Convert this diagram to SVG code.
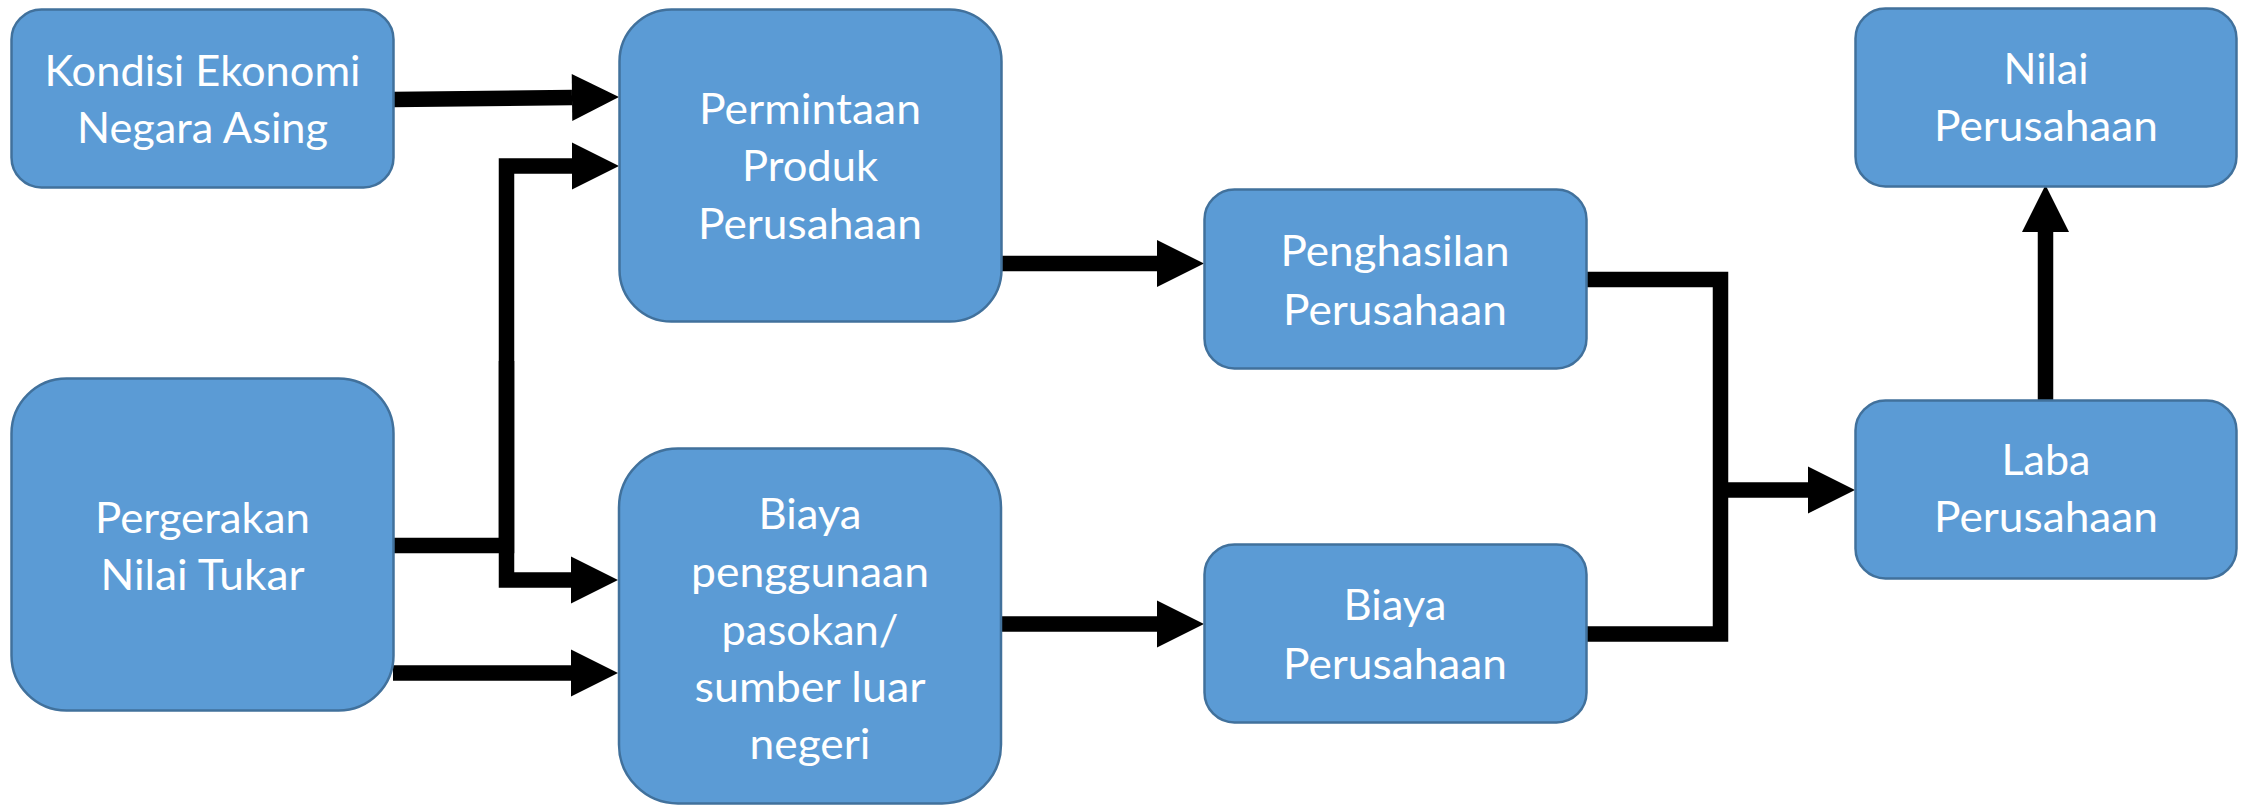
<svg xmlns="http://www.w3.org/2000/svg" width="2244" height="807" viewBox="0 0 2244 807">
  <defs>
    <style>
      .box { fill: #5B9BD5; stroke: #41719C; stroke-width: 2.5; }
      .lbl { font-family: Lato, "Open Sans", "Liberation Sans", sans-serif; font-size: 43px; fill: #FFFFFF; text-anchor: middle; }
      .link { fill: none; stroke: #000000; stroke-width: 15.5; stroke-linejoin: miter; stroke-linecap: butt; }
    </style>
    <marker id="head" markerUnits="userSpaceOnUse" markerWidth="48" markerHeight="48" viewBox="0 -24 48 48" refX="0" refY="0" orient="auto" overflow="visible">
      <path d="M0,-23.5 L47,0 L0,23.5 Z" fill="#000000"/>
    </marker>
  </defs>

  <rect width="2244" height="807" fill="#FFFFFF"/>

  <!-- connectors -->
  <g id="connectors">
    <path class="link" d="M393,99.5 L572,97.5" marker-end="url(#head)"/>
    <path class="link" d="M393,545.5 H506.5 V166 H572" marker-end="url(#head)"/>
    <path class="link" d="M506.5,361 V580 H571" marker-end="url(#head)"/>
    <path class="link" d="M393,673 H571" marker-end="url(#head)"/>
    <path class="link" d="M1001,263.5 H1157" marker-end="url(#head)"/>
    <path class="link" d="M1000,624 H1157" marker-end="url(#head)"/>
    <path class="link" d="M1586,279.5 H1720.5 V634 H1586"/>
    <path class="link" d="M1713,490 H1808" marker-end="url(#head)"/>
    <path class="link" d="M2045.5,400 V232" marker-end="url(#head)"/>
  </g>

  <!-- nodes -->
  <g id="kondisi-ekonomi">
    <rect class="box" x="11.5" y="9.5" width="382" height="178" rx="30" ry="30"/>
    <text class="lbl" x="202.5" y="86" textLength="316" lengthAdjust="spacingAndGlyphs">Kondisi Ekonomi</text>
    <text class="lbl" x="202.5" y="143" textLength="251" lengthAdjust="spacingAndGlyphs">Negara Asing</text>
  </g>

  <g id="permintaan-produk">
    <rect class="box" x="619.5" y="9.5" width="382" height="312" rx="52" ry="52"/>
    <text class="lbl" x="810" y="124" textLength="222" lengthAdjust="spacingAndGlyphs">Permintaan</text>
    <text class="lbl" x="810" y="181" textLength="136" lengthAdjust="spacingAndGlyphs">Produk</text>
    <text class="lbl" x="810" y="239" textLength="224" lengthAdjust="spacingAndGlyphs">Perusahaan</text>
  </g>

  <g id="pergerakan-nilai-tukar">
    <rect class="box" x="11.5" y="378.5" width="382" height="332" rx="55" ry="55"/>
    <text class="lbl" x="202.5" y="533" textLength="215" lengthAdjust="spacingAndGlyphs">Pergerakan</text>
    <text class="lbl" x="202.5" y="590" textLength="204" lengthAdjust="spacingAndGlyphs">Nilai Tukar</text>
  </g>

  <g id="biaya-pasokan">
    <rect class="box" x="619" y="448.5" width="382" height="355" rx="59" ry="59"/>
    <text class="lbl" x="810" y="529" textLength="103" lengthAdjust="spacingAndGlyphs">Biaya</text>
    <text class="lbl" x="810" y="587" textLength="238" lengthAdjust="spacingAndGlyphs">penggunaan</text>
    <text class="lbl" x="810" y="645" textLength="177" lengthAdjust="spacingAndGlyphs">pasokan/</text>
    <text class="lbl" x="810" y="702" textLength="231" lengthAdjust="spacingAndGlyphs">sumber luar</text>
    <text class="lbl" x="810" y="759" textLength="121" lengthAdjust="spacingAndGlyphs">negeri</text>
  </g>

  <g id="penghasilan">
    <rect class="box" x="1204.5" y="189.5" width="382" height="179" rx="30" ry="30"/>
    <text class="lbl" x="1395" y="266" textLength="229" lengthAdjust="spacingAndGlyphs">Penghasilan</text>
    <text class="lbl" x="1395" y="325" textLength="224" lengthAdjust="spacingAndGlyphs">Perusahaan</text>
  </g>

  <g id="biaya-perusahaan">
    <rect class="box" x="1204.5" y="544.5" width="382" height="178" rx="30" ry="30"/>
    <text class="lbl" x="1395" y="620" textLength="103" lengthAdjust="spacingAndGlyphs">Biaya</text>
    <text class="lbl" x="1395" y="679" textLength="224" lengthAdjust="spacingAndGlyphs">Perusahaan</text>
  </g>

  <g id="nilai-perusahaan">
    <rect class="box" x="1855.5" y="8.5" width="381" height="178" rx="30" ry="30"/>
    <text class="lbl" x="2046" y="84" textLength="85" lengthAdjust="spacingAndGlyphs">Nilai</text>
    <text class="lbl" x="2046" y="141" textLength="224" lengthAdjust="spacingAndGlyphs">Perusahaan</text>
  </g>

  <g id="laba-perusahaan">
    <rect class="box" x="1855.5" y="400.5" width="381" height="178" rx="30" ry="30"/>
    <text class="lbl" x="2046" y="475" textLength="89" lengthAdjust="spacingAndGlyphs">Laba</text>
    <text class="lbl" x="2046" y="532" textLength="224" lengthAdjust="spacingAndGlyphs">Perusahaan</text>
  </g>
</svg>
